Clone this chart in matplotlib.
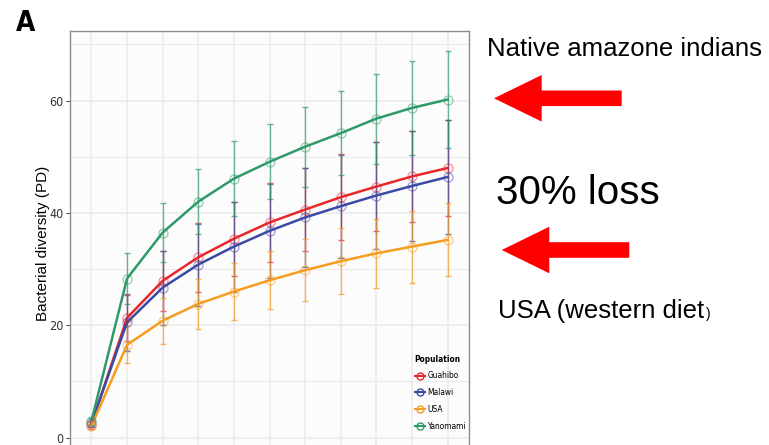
#!/usr/bin/env python3
import matplotlib
matplotlib.use("Agg")
import matplotlib.pyplot as plt
from matplotlib.font_manager import FontProperties
from matplotlib.lines import Line2D
from matplotlib.patches import Polygon
from matplotlib.ticker import MultipleLocator

W, H = 769, 445

# sampling depth steps (x axis is off the bottom of the picture)
steps = list(range(1, 12))
populations = ["Guahibo", "Malawi", "USA", "Yanomami"]
colors = ["#e8272a", "#3a4aa5", "#f59d1f", "#2e9a68"]

guahibo_mean = [2.3, 21.3, 27.9, 32.1, 35.4, 38.3, 40.6, 42.8, 44.7, 46.5, 48.0]
guahibo_sd = [0.5, 4.1, 5.4, 6.1, 6.6, 7.0, 7.4, 7.7, 7.9, 8.1, 8.5]
malawi_mean = [2.5, 20.5, 26.7, 30.8, 34.0, 36.8, 39.2, 41.2, 43.1, 44.8, 46.4]
malawi_sd = [0.5, 5.1, 6.6, 7.3, 8.0, 8.4, 8.8, 9.2, 9.5, 9.8, 10.1]
usa_mean = [2.0, 16.5, 20.8, 23.8, 26.0, 28.0, 29.8, 31.4, 32.8, 34.0, 35.2]
usa_sd = [0.4, 3.3, 4.1, 4.5, 5.0, 5.2, 5.5, 5.9, 6.1, 6.4, 6.5]
yanomami_mean = [2.9, 28.3, 36.5, 42.0, 46.1, 49.1, 51.8, 54.2, 56.8, 58.7, 60.2]
yanomami_sd = [0.6, 4.6, 5.2, 5.8, 6.7, 6.7, 7.1, 7.5, 8.0, 8.3, 8.7]

means = [guahibo_mean, malawi_mean, usa_mean, yanomami_mean]
sds = [guahibo_sd, malawi_sd, usa_sd, yanomami_sd]

SANS = ["Liberation Sans", "DejaVu Sans"]


def narrow(size, weight="normal"):
    return FontProperties(family="DejaVu Sans", stretch="condensed",
                          size=size, weight=weight)


def px(x, y):
    return x / W, 1 - y / H


def arrow(fig, tip_x, cy, base_x, end_x, head_half=23.3, shaft_half=7.8):
    pts = [(tip_x, cy), (base_x, cy - head_half), (base_x, cy - shaft_half),
           (end_x, cy - shaft_half), (end_x, cy + shaft_half),
           (base_x, cy + shaft_half), (base_x, cy + head_half)]
    fig.patches.append(Polygon([px(*p) for p in pts], closed=True,
                               transform=fig.transFigure, facecolor="#ff0000",
                               edgecolor="none"))


fig = plt.figure(figsize=(W / 100, H / 100), dpi=100)
ax = fig.add_axes([70 / W, -1.5 / H, 399 / W, (446.5 - 31) / H])
ax.set_facecolor("#fcfcfc")

for m, s, c in zip(means, sds, colors):
    ax.errorbar(steps, m, yerr=s, fmt="none", ecolor=c, elinewidth=1.0,
                capsize=2, capthick=1.0, alpha=0.7, zorder=3)
for m, c in zip(means, colors):
    ax.plot(steps, m, color=c, lw=1.8, zorder=4)
    ax.plot(steps, m, ls="none", marker="o", ms=6.5, mfc="none", mec=c,
            mew=0.9, alpha=0.5, zorder=5)

ax.set_xlim(0.4, 11.6)
ax.set_ylim(-1.6, 72.4)
ax.set_xticks(steps)
ax.set_xticklabels([])
ax.yaxis.set_major_locator(MultipleLocator(20))
ax.yaxis.set_minor_locator(MultipleLocator(10))
ax.grid(True, which="major", color="#ebebeb", lw=1.1, zorder=0)
ax.grid(True, which="minor", axis="y", color="#ebebeb", lw=0.8, zorder=0)
ax.set_axisbelow(True)
ax.tick_params(axis="y", which="major", length=3, width=0.8, color="#555555",
               labelcolor="#333333", pad=1.5)
ax.tick_params(axis="y", which="minor", length=0)
ax.tick_params(axis="x", length=0)
for lab in ax.get_yticklabels():
    lab.set_fontproperties(narrow(9))
for sp in ax.spines.values():
    sp.set_color("#8c8c8c")
    sp.set_linewidth(1.0)

ax.set_ylabel("Bacterial diversity (PD)", fontsize=11, family=SANS)
ax.yaxis.set_label_coords(-20 / 399, 0.49)

handles = [Line2D([], [], color=c, lw=1.5, marker="o", ms=5, mfc="none", mec=c)
           for c in colors]
leg = ax.legend(handles, populations, title="Population", loc="lower left",
                bbox_to_anchor=(337 / 399, 0.02),
                frameon=False, handlelength=1.2, handletextpad=0.35,
                labelspacing=0.93, prop=narrow(6),
                title_fontproperties=narrow(6, "bold"))
leg._legend_box.align = "left"

fig.text(*px(16, 31), "A", fontproperties=narrow(20, "bold"),
         ha="left", va="baseline")
fig.text(*px(487, 56.5), "Native amazone indians", fontsize=18.5, family=SANS,
         ha="left", va="baseline")
fig.text(*px(496, 203.5), "30% loss", fontsize=29, family=SANS,
         ha="left", va="baseline")
fig.text(*px(498, 318.3), "USA (western diet", fontsize=18.5, family=SANS,
         ha="left", va="baseline")
fig.text(*px(706, 318.3), ")", fontsize=10, family=SANS,
         ha="left", va="baseline")

arrow(fig, 494, 98.3, 541.7, 621.7)
arrow(fig, 501.7, 250, 549.3, 629.3)

fig.savefig("out.png", dpi=100)
